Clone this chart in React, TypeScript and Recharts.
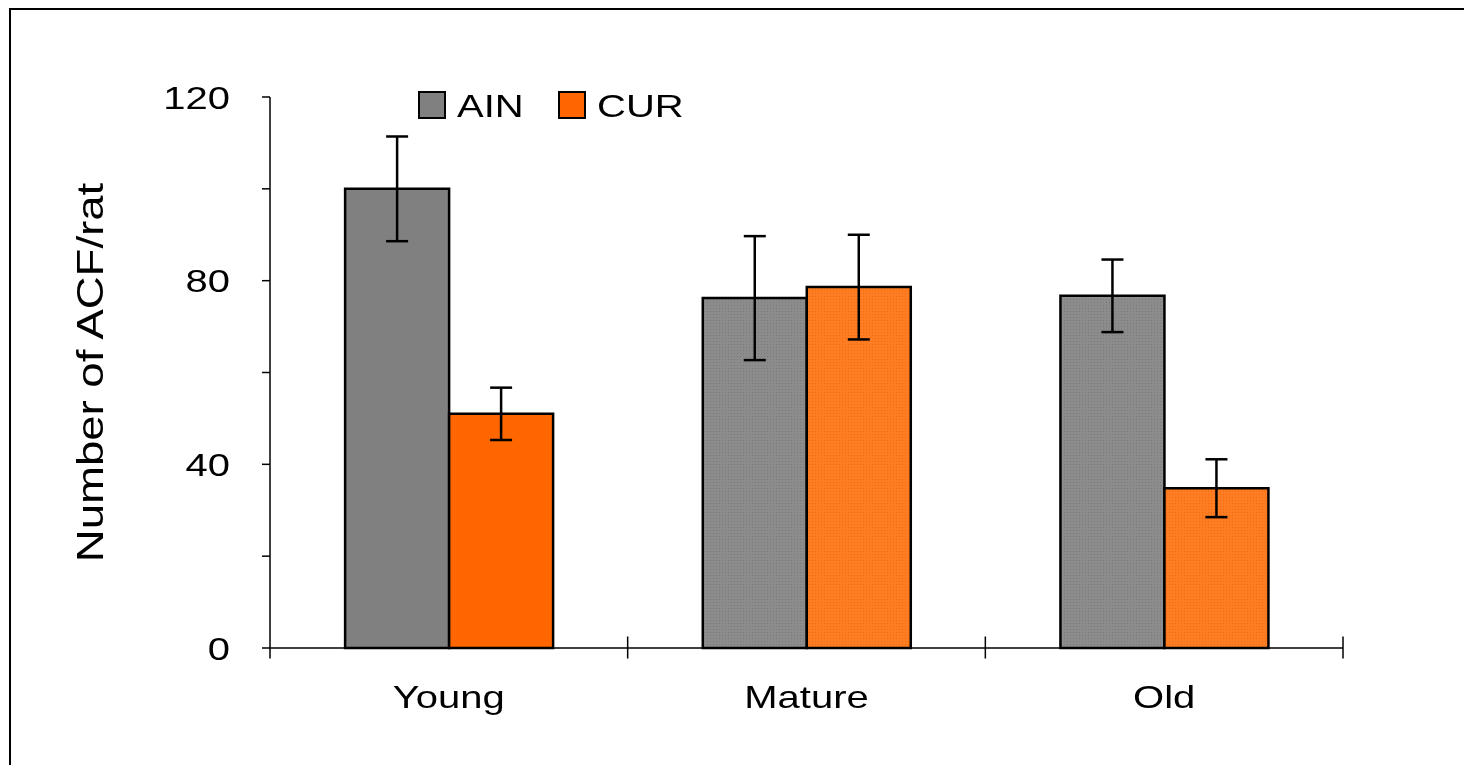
import {
    BarChart,
    Bar,
    XAxis,
    YAxis,
    ErrorBar,
    Legend,
    Cell,
} from "recharts"

const categories = ["Young", "Mature", "Old"]
const ainValues = [100, 76.2, 76.7]
const ainErrors = [11.4, 13.5, 7.9]
const curValues = [51, 78.6, 34.8]
const curErrors = [5.7, 11.4, 6.3]
const yTicks = [0, 20, 40, 60, 80, 100, 120]
const yLabelTicks = [0, 40, 80, 120]

const FONT = "'Liberation Sans', Arial, sans-serif"
const AIN_COLOR = "#808080"
const CUR_COLOR = "#ff6600"

const chartData = categories.map((name, i) => ({
    name,
    ain: ainValues[i],
    ainErr: ainErrors[i],
    cur: curValues[i],
    curErr: curErrors[i],
}))

const YTick = (props: any) => {
    const { x, y, payload } = props
    if (!yLabelTicks.includes(payload.value)) return null
    return (
        <g transform={`translate(${x},${y}) scale(1.25,1)`}>
            <text x={0} y={0} dy="0.36em" textAnchor="end" fontSize={32} fontFamily={FONT} fill="#000">
                {payload.value}
            </text>
        </g>
    )
}

// category label plus the tick marks on the category edges
const XTick = (props: any) => {
    const { x, y, payload, index } = props
    const half = payload.offset || 0
    return (
        <g>
            {index === 0 && (
                <line x1={x - half} x2={x - half} y1={y} y2={y + 10.5} stroke="#000" strokeWidth={1.5} />
            )}
            <line x1={x + half} x2={x + half} y1={y - 11.5} y2={y + 10.5} stroke="#000" strokeWidth={1.5} />
            <g transform={`translate(${x},${y + 60}) scale(1.25,1)`}>
                <text x={0} y={0} textAnchor="middle" fontSize={32} fontFamily={FONT} fill="#000">
                    {payload.value}
                </text>
            </g>
        </g>
    )
}

const YLabel = (props: any) => {
    const { viewBox } = props
    const cy = viewBox.y + viewBox.height / 2
    return (
        <g transform={`translate(${viewBox.x + 95},${cy}) rotate(-90) scale(1.23,1)`}>
            <text x={0} y={0} textAnchor="middle" fontSize={37} fontFamily={FONT} fill="#000">
                Number of ACF/rat
            </text>
        </g>
    )
}

const LegendContent = () => (
    <svg width={300} height={46} style={{ display: "block" }}>
        <rect x={1} y={7} width={26} height={26} fill={AIN_COLOR} stroke="#000" strokeWidth={2} />
        <g transform="translate(39,32) scale(1.25,1)">
            <text fontSize={32} fontFamily={FONT} fill="#000">AIN</text>
        </g>
        <rect x={141} y={7} width={26} height={26} fill={CUR_COLOR} stroke="#000" strokeWidth={2} />
        <g transform="translate(179,32) scale(1.25,1)">
            <text fontSize={32} fontFamily={FONT} fill="#000">CUR</text>
        </g>
    </svg>
)

export default function App() {
    return (
        <div style={{ position: "relative", width: 1440, height: 740, background: "#fff" }}>
            <div
                style={{
                    position: "fixed",
                    left: 9,
                    top: 8,
                    right: -20,
                    bottom: -20,
                    borderTop: "2px solid #000",
                    borderLeft: "2px solid #000",
                }}
            />
            <div style={{ position: "absolute", left: 0, top: 0 }}>
                <BarChart
                    width={1440}
                    height={740}
                    data={chartData}
                    margin={{ top: 89, right: 105, bottom: 0, left: 0 }}
                    barCategoryGap="21%"
                    barGap={0}
                >
                    <defs>
                        <pattern id="dotGray" width={3} height={3} patternUnits="userSpaceOnUse">
                            <rect width={3} height={3} fill="#8c8c8c" />
                            <rect width={1} height={1} fill="#7a7a7a" />
                        </pattern>
                        <pattern id="dotOrange" width={3} height={3} patternUnits="userSpaceOnUse">
                            <rect width={3} height={3} fill="#ff7d22" />
                            <rect width={1} height={1} fill="#f06a10" />
                        </pattern>
                    </defs>
                    <XAxis
                        dataKey="name"
                        height={100}
                        axisLine={{ stroke: "#000", strokeWidth: 1.5 }}
                        tickLine={false}
                        tickSize={0}
                        tickMargin={0}
                        tick={<XTick />}
                        interval={0}
                    />
                    <YAxis
                        width={262}
                        domain={[0, 120]}
                        ticks={yTicks}
                        interval={0}
                        tickSize={8}
                        tickMargin={32}
                        axisLine={{ stroke: "#000", strokeWidth: 1.5 }}
                        tickLine={{ stroke: "#000", strokeWidth: 1.5 }}
                        tick={<YTick />}
                        label={{ content: <YLabel /> }}
                    />
                    <Legend
                        layout="horizontal"
                        verticalAlign="middle"
                        content={<LegendContent />}
                        wrapperStyle={{ top: 77, left: 410, width: 300, height: 46 }}
                    />
                    <Bar dataKey="ain" fill={AIN_COLOR} stroke="#000" strokeWidth={2.5} isAnimationActive={false}>
                        {chartData.map((_, i) => (
                            <Cell key={i} fill={i === 0 ? AIN_COLOR : "url(#dotGray)"} />
                        ))}
                        <ErrorBar dataKey="ainErr" width={11} stroke="#000" strokeWidth={2.5} isAnimationActive={false} />
                    </Bar>
                    <Bar dataKey="cur" fill={CUR_COLOR} stroke="#000" strokeWidth={2.5} isAnimationActive={false}>
                        {chartData.map((_, i) => (
                            <Cell key={i} fill={i === 0 ? CUR_COLOR : "url(#dotOrange)"} />
                        ))}
                        <ErrorBar dataKey="curErr" width={11} stroke="#000" strokeWidth={2.5} isAnimationActive={false} />
                    </Bar>
                </BarChart>
            </div>
        </div>
    )
}
